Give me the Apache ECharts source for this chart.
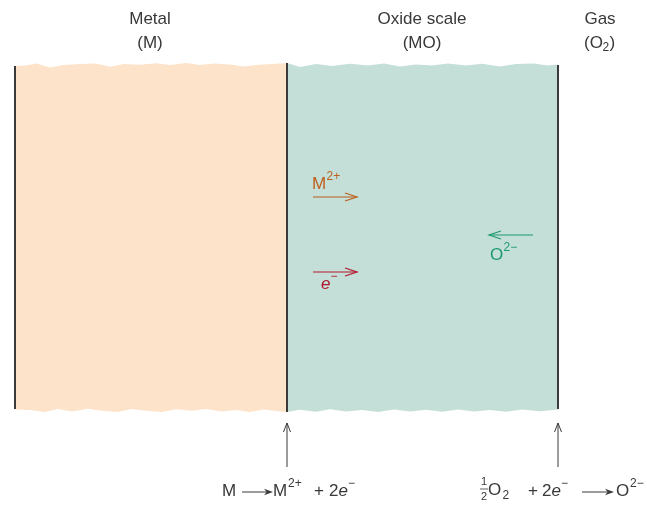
<!DOCTYPE html>
<html><head><meta charset="utf-8">
<script src="https://cdn.jsdelivr.net/npm/echarts@6/dist/echarts.min.js"></script>
<style>html,body{margin:0;padding:0;background:#fff}#c{width:647px;height:506px}</style>
</head><body><div id="c"></div>
<script>
// ---- diagram data (units = canvas pixels on a 647 x 506 value grid) ----
const layerNames = ['Metal', 'Oxide scale'];
const layerBounds = [15, 287, 558];            // x of left edge, interface, scale/gas edge
const topEdge = [[15,66],[26,65.5],[36,63.5],[50,67.5],[64,65],[80,64],[96,63.4],[110,66.8],[124,64],[140,64.8],[156,63.2],[170,65],[186,63],[200,65],[214,63.4],[230,64.4],[244,66.6],[258,64.8],[272,64],[287,63],[300,67],[316,64],[332,66],[350,63.8],[368,65.6],[384,63.4],[400,66.4],[416,64.5],[432,65.6],[448,63.4],[466,65.6],[482,63.8],[500,66.4],[516,64],[534,63.4],[548,65.6],[558,64.5]];
const bottomEdge = [[15,409.5],[30,410],[44,412],[58,409],[72,411.5],[88,408.8],[102,410.8],[118,412],[132,409],[148,411],[162,412],[176,409.2],[192,410.8],[206,409],[222,411.4],[236,410],[250,412],[264,409.6],[278,411.2],[287,412],[300,409.8],[316,411.8],[330,409.2],[346,411.4],[362,410],[378,412],[394,409.4],[410,411.4],[426,409.8],[442,411.8],[458,409.4],[474,411.4],[490,410],[506,411.8],[522,409.6],[540,411.2],[558,409.5]];
const interfaceLines = [[15,66,409],[287,63,412],[558,65,409]]; // x, yTop, yBottom
const headerTitles = ['Metal', 'Oxide scale', 'Gas'];
const headerFormulas = ['(M)', '(MO)', '(O₂)'];
const headerX = [150, 422, 600];
// ionic / electronic fluxes: species, charge, x from, x to, y
const fluxSpecies = ['M', 'e', 'O'];
const fluxCharge = ['2+', '−', '2−'];
const fluxFrom = [313, 313, 533];
const fluxTo = [357, 357, 489];
const fluxY = [197, 272, 235];
// reaction sites (interfaces) marked with upward arrows
const reactionX = [287, 558];
const reactionArrowY = [467, 423];

// ---- styles ----
const FONT = '"Liberation Sans", Arial, sans-serif';
const TXT = '#383838';
const FS = 17, SS = 12;
const layerFill = ['#FDE3CA', '#C4DFD8'];
const fluxColor = ['#BD5F1C', '#B2182B', '#1C9A6E'];

function T(api, text, x, y, size, color, align, opts) {
  const p = api.coord([x, y]);
  opts = opts || {};
  return {type: 'text', x: p[0], y: p[1], style: {
    text: text, fill: color || TXT, textAlign: align || 'left', textVerticalAlign: 'middle',
    font: (opts.italic ? 'italic ' : '') + size + 'px ' + FONT }};
}
function arrow(api, x0, y0, x1, y1, color, lw, head, hw, filled) {
  const a = api.coord([x0, y0]), b = api.coord([x1, y1]);
  const dx = b[0] - a[0], dy = b[1] - a[1], L = Math.hypot(dx, dy);
  const ux = dx / L, uy = dy / L, px = -uy, py = ux;
  const l = [b[0] - ux * head + px * hw, b[1] - uy * head + py * hw];
  const r = [b[0] - ux * head - px * hw, b[1] - uy * head - py * hw];
  const els = [{type: 'line', shape: {x1: a[0], y1: a[1], x2: filled ? b[0] - ux * head * 0.6 : b[0], y2: filled ? b[1] - uy * head * 0.6 : b[1]}, style: {stroke: color, lineWidth: lw}}];
  if (filled) els.push({type: 'polygon', shape: {points: [l, b, r, [b[0] - ux * head * 0.7, b[1] - uy * head * 0.7]]}, style: {fill: color}});
  else els.push({type: 'polyline', shape: {points: [l, b, r]}, style: {stroke: color, lineWidth: lw, fill: null}});
  return els;
}

const chart = echarts.init(document.getElementById('c'), null, {renderer: 'canvas'});
chart.setOption({
  animation: false,
  grid: {left: 0, right: 0, top: 0, bottom: 0},
  xAxis: {type: 'value', min: 0, max: 647, show: false},
  yAxis: {type: 'value', min: 0, max: 506, inverse: true, show: false},
  series: [
    { // layers
      type: 'custom', name: 'layers', data: layerNames.map((n, i) => i),
      renderItem: function (params, api) {
        const i = api.value(0);
        const x0 = layerBounds[i], x1 = layerBounds[i + 1];
        const top = topEdge.filter(p => p[0] >= x0 && p[0] <= x1);
        const bot = bottomEdge.filter(p => p[0] >= x0 && p[0] <= x1).reverse();
        const pts = top.concat(bot).map(p => api.coord(p));
        return {type: 'polygon', shape: {points: pts}, style: {fill: layerFill[i]}};
      }
    },
    { // interfaces + header labels + fluxes + reactions
      type: 'custom', name: 'annotations', data: [0],
      renderItem: function (params, api) {
        const ch = [];
        interfaceLines.forEach(l => {
          const a = api.coord([l[0], l[1]]), b = api.coord([l[0], l[2]]);
          ch.push({type: 'line', shape: {x1: a[0], y1: a[1], x2: b[0], y2: b[1]}, style: {stroke: '#3a3a3a', lineWidth: 2}});
        });
        headerTitles.forEach((t, i) => {
          ch.push(T(api, t, headerX[i], 19, FS, TXT, 'center'));
        });
        ch.push(T(api, headerFormulas[0], headerX[0], 43, FS, TXT, 'center'));
        ch.push(T(api, headerFormulas[1], headerX[1], 43, FS, TXT, 'center'));
        // (O2) with subscript
        ch.push(T(api, '(O', 584, 43, FS, TXT, 'left'));
        ch.push(T(api, '2', 602.5, 48, SS, TXT, 'left'));
        ch.push(T(api, ')', 609.5, 43, FS, TXT, 'left'));
        // fluxes
        for (let i = 0; i < fluxSpecies.length; i++) {
          ch.push.apply(ch, arrow(api, fluxFrom[i], fluxY[i], fluxTo[i], fluxY[i], fluxColor[i], 1.2, 12, 4, false));
        }
        ch.push(T(api, fluxSpecies[0], 312, 184, FS, fluxColor[0]));
        ch.push(T(api, fluxCharge[0], 326.5, 177, SS, fluxColor[0]));
        ch.push(T(api, fluxSpecies[1], 321, 284, FS, fluxColor[1], 'left', {italic: true}));
        ch.push(T(api, fluxCharge[1], 330.5, 277, SS, fluxColor[1]));
        ch.push(T(api, fluxSpecies[2], 490, 255, FS, fluxColor[2]));
        ch.push(T(api, fluxCharge[2], 503.5, 248, SS, fluxColor[2]));
        // reaction arrows
        reactionX.forEach(x => ch.push.apply(ch, arrow(api, x, reactionArrowY[0], x, reactionArrowY[1], '#3a3a3a', 1, 9, 3.5, false)));
        // left equation: M -> M2+ + 2e-
        ch.push(T(api, 'M', 222, 491, FS));
        ch.push.apply(ch, arrow(api, 242, 492, 273, 492, '#3a3a3a', 1, 9, 3.2, true));
        ch.push(T(api, 'M', 273, 491, FS));
        ch.push(T(api, '2+', 288, 484, SS));
        ch.push(T(api, '+', 314, 491, FS));
        ch.push(T(api, '2', 329, 491, FS));
        ch.push(T(api, 'e', 338.5, 491, FS, TXT, 'left', {italic: true}));
        ch.push(T(api, '−', 348, 484, SS));
        // right equation: 1/2 O2 + 2e- -> O2-
        ch.push(T(api, '1', 484, 482, 11, TXT, 'center'));
        const f0 = api.coord([480, 489]), f1 = api.coord([488, 489]);
        ch.push({type: 'line', shape: {x1: f0[0], y1: f0[1], x2: f1[0], y2: f1[1]}, style: {stroke: TXT, lineWidth: 0.8}});
        ch.push(T(api, '2', 484, 497, 11, TXT, 'center'));
        ch.push(T(api, 'O', 488, 490, FS));
        ch.push(T(api, '2', 502.5, 496, SS));
        ch.push(T(api, '+', 528, 491, FS));
        ch.push(T(api, '2', 542, 491, FS));
        ch.push(T(api, 'e', 551.5, 491, FS, TXT, 'left', {italic: true}));
        ch.push(T(api, '−', 561, 484, SS));
        ch.push.apply(ch, arrow(api, 582, 492, 614, 492, '#3a3a3a', 1, 9, 3.2, true));
        ch.push(T(api, 'O', 616, 491, FS));
        ch.push(T(api, '2−', 630, 484, SS));
        return {type: 'group', children: ch};
      }
    }
  ]
});
</script></body></html>
